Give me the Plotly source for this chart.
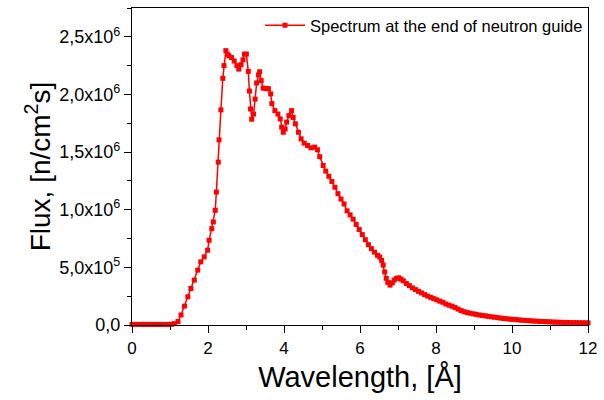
import plotly.graph_objects as go

# wavelength in Angstrom, flux in units of 1e6 n/cm^2 s
WAVELENGTH = [
    0.00, 0.08, 0.16, 0.24, 0.32, 0.40, 0.48, 0.56, 0.64, 0.72, 0.80, 0.88, 0.96, 1.04, 1.12,
    1.21, 1.29, 1.38, 1.47, 1.55, 1.64, 1.73, 1.81, 1.90, 1.99, 2.03, 2.10, 2.14, 2.19, 2.22,
    2.27, 2.29, 2.34, 2.39, 2.42, 2.47, 2.51, 2.55, 2.62, 2.69, 2.76, 2.81, 2.87, 2.92, 2.96,
    3.01, 3.06, 3.09, 3.12, 3.15, 3.20, 3.24, 3.28, 3.33, 3.36, 3.40, 3.45, 3.52, 3.59, 3.65,
    3.68, 3.76, 3.84, 3.90, 3.94, 3.98, 4.03, 4.07, 4.13, 4.20, 4.24, 4.30, 4.38, 4.45, 4.53,
    4.62, 4.71, 4.81, 4.88, 4.94, 5.03, 5.10, 5.18, 5.26, 5.34, 5.42, 5.50, 5.58, 5.66, 5.74,
    5.82, 5.90, 5.98, 6.06, 6.14, 6.22, 6.30, 6.38, 6.46, 6.52, 6.57, 6.61, 6.65, 6.69, 6.73,
    6.79, 6.85, 6.90, 6.96, 7.02, 7.08, 7.14, 7.22, 7.30, 7.38, 7.46, 7.54, 7.62, 7.70, 7.78,
    7.86, 7.94, 8.02, 8.10, 8.18, 8.26, 8.34, 8.42, 8.50, 8.58, 8.66, 8.74, 8.82, 8.90, 8.98,
    9.06, 9.14, 9.22, 9.30, 9.38, 9.46, 9.54, 9.62, 9.70, 9.78, 9.86, 9.94, 10.02, 10.10, 10.18,
    10.26, 10.34, 10.42, 10.50, 10.58, 10.66, 10.74, 10.82, 10.90, 10.98, 11.06, 11.14, 11.22,
    11.30, 11.38, 11.46, 11.54, 11.62, 11.70, 11.78, 11.86, 11.94, 12.00,
]
FLUX_E6 = [
    0.005, 0.005, 0.005, 0.005, 0.005, 0.005, 0.005, 0.005, 0.005, 0.005, 0.005, 0.005, 0.005, 0.006, 0.012,
    0.030, 0.087, 0.164, 0.245, 0.317, 0.389, 0.476, 0.548, 0.591, 0.649, 0.735, 0.836, 0.894, 0.995, 1.153,
    1.413, 1.606, 1.866, 2.140, 2.250, 2.380, 2.350, 2.336, 2.320, 2.290, 2.250, 2.220, 2.258, 2.300, 2.350,
    2.350, 2.200, 2.030, 1.874, 1.785, 1.830, 1.960, 2.100, 2.170, 2.197, 2.120, 2.055, 2.050, 2.050, 2.005,
    1.920, 1.860, 1.830, 1.788, 1.716, 1.672, 1.700, 1.760, 1.817, 1.860, 1.800, 1.745, 1.672, 1.615, 1.578,
    1.557, 1.537, 1.543, 1.520, 1.460, 1.384, 1.335, 1.290, 1.245, 1.195, 1.139, 1.093, 1.050, 0.990, 0.955,
    0.918, 0.872, 0.828, 0.784, 0.740, 0.697, 0.662, 0.632, 0.605, 0.590, 0.560, 0.520, 0.460, 0.405, 0.370,
    0.346, 0.366, 0.390, 0.405, 0.409, 0.398, 0.383, 0.360, 0.342, 0.322, 0.307, 0.292, 0.278, 0.264, 0.251,
    0.240, 0.229, 0.218, 0.207, 0.197, 0.182, 0.172, 0.163, 0.152, 0.138, 0.125, 0.115, 0.108, 0.102, 0.097,
    0.092, 0.087, 0.083, 0.079, 0.075, 0.071, 0.068, 0.064, 0.060, 0.057, 0.054, 0.051, 0.049, 0.047, 0.044,
    0.042, 0.040, 0.038, 0.036, 0.034, 0.033, 0.031, 0.030, 0.029, 0.028, 0.026, 0.025, 0.024,
    0.023, 0.022, 0.022, 0.021, 0.020, 0.020, 0.019, 0.019, 0.018, 0.018,
]

Y_TICKS = [0, 0.5e6, 1.0e6, 1.5e6, 2.0e6, 2.5e6]
Y_LABELS = ["0,0", "5,0x10<sup>5</sup>", "1,0x10<sup>6</sup>", "1,5x10<sup>6</sup>",
            "2,0x10<sup>6</sup>", "2,5x10<sup>6</sup>"]

RED = "#ff0000"
FONT = "Liberation Sans, Arial, sans-serif"

fig = go.Figure(go.Scatter(
    x=WAVELENGTH, y=[v * 1e6 for v in FLUX_E6],
    mode="lines+markers", name="Spectrum at the end of neutron guide",
    line=dict(color=RED, width=1.5),
    marker=dict(symbol="square", size=5, color=RED, line=dict(width=0)),
    cliponaxis=False,
))

axis = dict(showline=True, linecolor="black", linewidth=1.3, mirror=True,
            ticks="outside", ticklen=7, tickwidth=1.2, tickcolor="black",
            showgrid=False, zeroline=False)

fig.update_layout(
    width=604, height=400,
    margin=dict(l=132, r=11, t=7, b=75),
    paper_bgcolor="white", plot_bgcolor="white",
    font=dict(family=FONT, color="black"),
    showlegend=True,
    legend=dict(x=1, xanchor="right", y=1, yanchor="top", bgcolor="rgba(0,0,0,0)",
                itemwidth=40, font=dict(family=FONT, size=16.5, color="black")),
    xaxis=dict(axis, range=[0, 12], dtick=2, tick0=0,
               tickfont=dict(family=FONT, size=17, color="black"),
               minor=dict(dtick=1, ticks="outside", ticklen=4, tickcolor="black"),
               title=dict(text="Wavelength, [Å]", font=dict(family=FONT, size=29), standoff=10)),
    yaxis=dict(axis, range=[0, 2.75e6], tickmode="array", tickvals=Y_TICKS, ticktext=Y_LABELS,
               tickfont=dict(family=FONT, size=18, color="black"),
               minor=dict(dtick=250000, ticks="outside", ticklen=4, tickcolor="black"),
               title=dict(text="Flux, [n/cm<sup>2</sup>s]", font=dict(family=FONT, size=28), standoff=0)),
)

# drop the browser's default page margin so the figure sits at the window's corner
fig.write_html("out.html", config={"displayModeBar": False},
               post_script="document.body.style.margin='0';")
